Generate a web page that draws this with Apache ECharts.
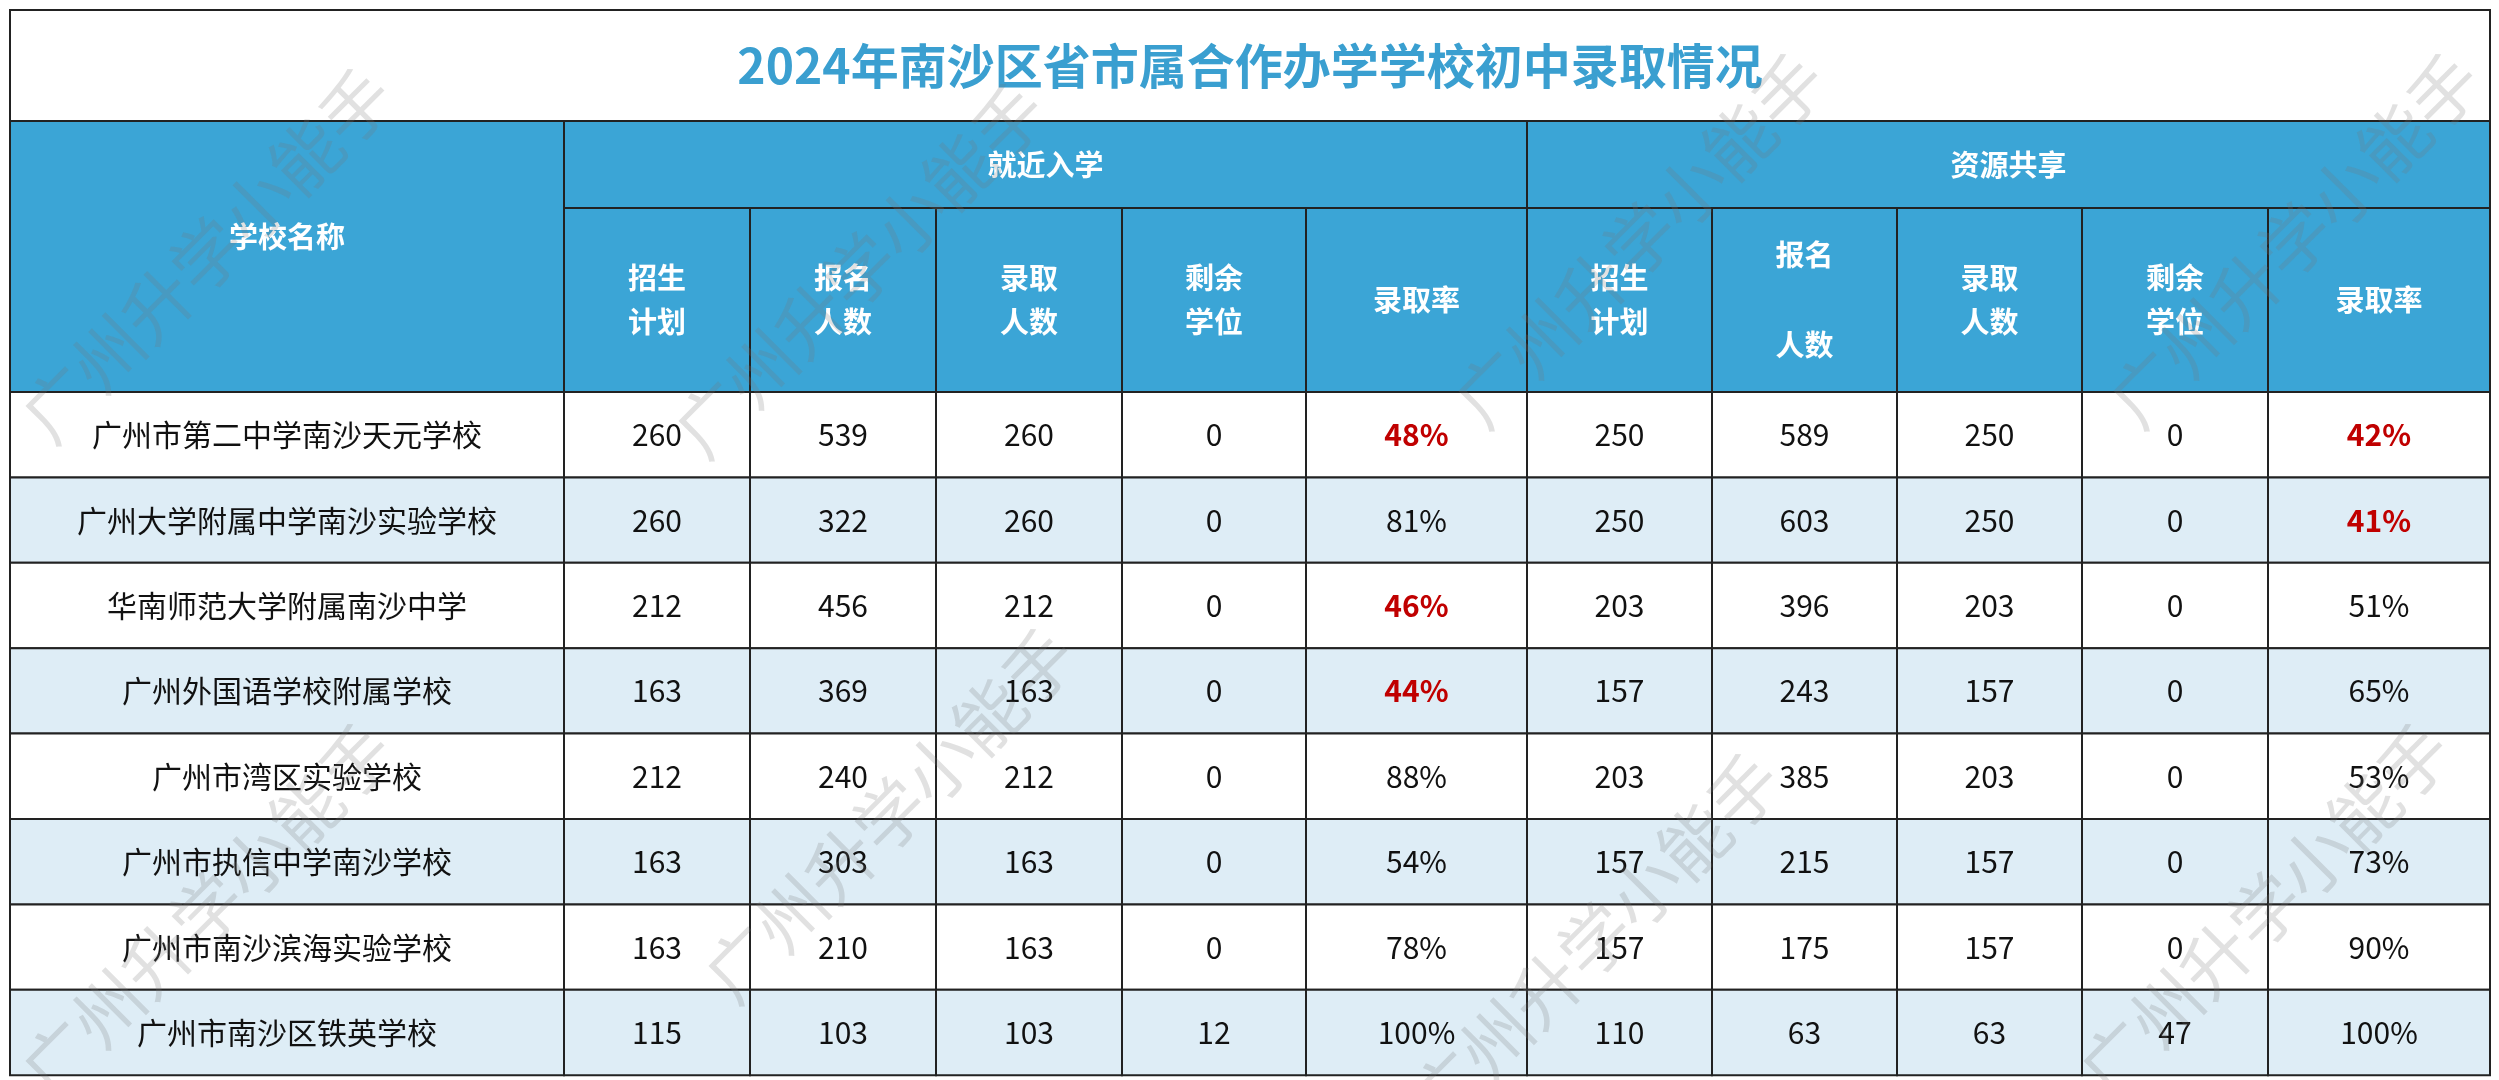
<!DOCTYPE html>
<html><head><meta charset="utf-8">
<script src="https://cdn.jsdelivr.net/npm/echarts@6/dist/echarts.min.js"></script>
<style>html,body{margin:0;padding:0;background:#fff}#main{width:2499px;height:1080px}</style>
</head><body><div id="main"></div>
<script>
var title = '2024年南沙区省市属合作办学学校初中录取情况';
var groups = ['就近入学', '资源共享'];
var subHeads = ['招生\n计划', '报名\n人数', '录取\n人数', '剩余\n学位', '录取率'];
var subHeads2 = ['招生\n计划', '报名\n\n人数', '录取\n人数', '剩余\n学位', '录取率'];
var schools = ['广州市第二中学南沙天元学校', '广州大学附属中学南沙实验学校', '华南师范大学附属南沙中学', '广州外国语学校附属学校',
  '广州市湾区实验学校', '广州市执信中学南沙学校', '广州市南沙滨海实验学校', '广州市南沙区铁英学校'];
var nearPlan = [260, 260, 212, 163, 212, 163, 163, 115];
var nearApply = [539, 322, 456, 369, 240, 303, 210, 103];
var nearAdmit = [260, 260, 212, 163, 212, 163, 163, 103];
var nearLeft = [0, 0, 0, 0, 0, 0, 0, 12];
var nearRate = ['48%', '81%', '46%', '44%', '88%', '54%', '78%', '100%'];
var sharePlan = [250, 250, 203, 157, 203, 157, 157, 110];
var shareApply = [589, 603, 396, 243, 385, 215, 175, 63];
var shareAdmit = [250, 250, 203, 157, 203, 157, 157, 63];
var shareLeft = [0, 0, 0, 0, 0, 0, 0, 47];
var shareRate = ['42%', '41%', '51%', '65%', '53%', '73%', '90%', '100%'];

// layout
var colX = [10, 564, 750, 936, 1122, 1306, 1527, 1712, 1897, 2082, 2268, 2490];
var yTitle = 10, yHead1 = 121, yHead2 = 208, yBody = 392, rowH = 85.4;
var BLUE = '#3ba5d6', STRIPE = '#deedf6', RED = '#c00000';

function rateStyle(r) {
  return parseInt(r) < 50 ? { color: RED, bold: true } : { color: '#111', bold: false };
}
var cells = [];
function cell(x0, y0, x1, y1, text, fill, color, bold, size) {
  cells.push([x0, y0, x1, y1, String(text), fill, color, bold ? 1 : 0, size || 30]);
}
cell(colX[0], yTitle, colX[11], yHead1, title, '#fff', '#3a9fd0', true, 48);
cell(colX[0], yHead1, colX[1], yBody, '学校名称', BLUE, '#fff', true, 29);
cells[cells.length - 1][10] = -20;
cell(colX[1], yHead1, colX[6], yHead2, groups[0], BLUE, '#fff', true, 29);
cell(colX[6], yHead1, colX[11], yHead2, groups[1], BLUE, '#fff', true, 29);
for (var j = 0; j < 5; j++) {
  cell(colX[1 + j], yHead2, colX[2 + j], yBody, subHeads[j], BLUE, '#fff', true, 29);
  cell(colX[6 + j], yHead2, colX[7 + j], yBody, subHeads2[j], BLUE, '#fff', true, 29);
}
schools.forEach(function (s, i) {
  var y0 = yBody + i * rowH, y1 = y0 + rowH, fill = i % 2 ? STRIPE : '#fff';
  var vals = [nearPlan[i], nearApply[i], nearAdmit[i], nearLeft[i], nearRate[i],
    sharePlan[i], shareApply[i], shareAdmit[i], shareLeft[i], shareRate[i]];
  cell(colX[0], y0, colX[1], y1, s, fill, '#111', false, 30);
  vals.forEach(function (v, k) {
    var st = (k === 4 || k === 9) ? rateStyle(v) : { color: '#111', bold: false };
    cell(colX[1 + k], y0, colX[2 + k], y1, v, fill, st.color, st.bold, 30);
  });
});

var marks = [];
var wm = '广州升学小能手';
[[207, 255], [860, 270], [1640, 240], [2295, 240], [207, 910], [890, 815], [1595, 940], [2265, 910]].forEach(function (p) {
  marks.push({ type: 'text', x: p[0], y: p[1], rotation: Math.PI / 4, z: 100, silent: true,
    style: { text: wm, fill: 'rgba(120,120,120,0.22)', font: '70px "Noto Sans CJK SC"', textAlign: 'center', textVerticalAlign: 'middle' } });
});

var chart = echarts.init(document.getElementById('main'));
chart.setOption({
  animation: false,
  grid: { left: 0, right: 0, top: 0, bottom: 0 },
  xAxis: { type: 'value', min: 0, max: 2499, show: false },
  yAxis: { type: 'value', min: 0, max: 1080, inverse: true, show: false },
  graphic: marks,
  series: [{
    type: 'custom',
    data: cells,
    renderItem: function (params, api) {
      var d = cells[params.dataIndex];
      var p0 = api.coord([d[0], d[1]]), p1 = api.coord([d[2], d[3]]);
      return {
        type: 'group',
        children: [{
          type: 'rect',
          shape: { x: p0[0], y: p0[1], width: p1[0] - p0[0], height: p1[1] - p0[1] },
          style: { fill: d[5], stroke: '#222', lineWidth: 2 }
        }, {
          type: 'text',
          style: {
            text: d[4], x: (p0[0] + p1[0]) / 2, y: (p0[1] + p1[1]) / 2 + (d[10] || 0),
            fill: d[6], align: 'center', verticalAlign: 'middle', lineHeight: d[8] * 1.55,
            font: (d[7] ? 'bold ' : '') + d[8] + 'px "Noto Sans CJK SC", sans-serif'
          }
        }]
      };
    }
  }]
});
</script></body></html>
